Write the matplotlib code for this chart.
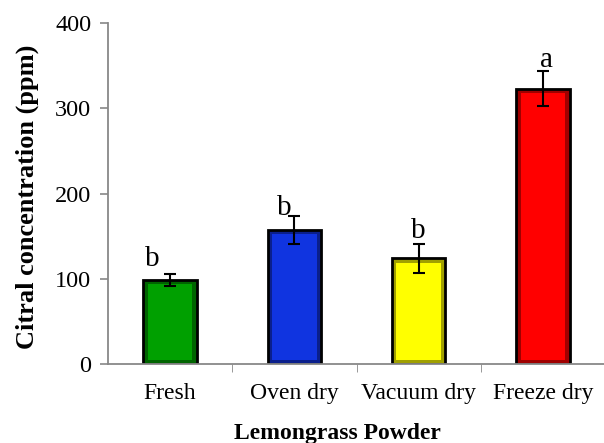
import numpy as np
import matplotlib.pyplot as plt

# dati
campioni = ['Fresh', 'Oven dry', 'Vacuum dry', 'Freeze dry']
citrale = [98.5, 157, 124, 323]
errore = [7.5, 16.5, 17, 20.5]
lettere = ['b', 'b', 'b', 'a']
lettere_y = [115, 175, 148, 348]
colori = ['#00a000', '#1034e0', '#ffff00', '#ff0000']
scuri = ['#006400', '#0a1f8c', '#a0a000', '#a00000']

plt.rcParams['font.family'] = ['Liberation Serif', 'DejaVu Serif']

fig = plt.figure(figsize=(6.04, 4.43), dpi=100)
ax = fig.add_axes([108 / 604, 1 - 364 / 443, 497 / 604, 341 / 443])

x = np.arange(len(campioni))
larg = 0.43
# barra esterna scura + interno chiaro per un effetto "smussato"
ax.bar(x, citrale, width=larg, color=scuri, edgecolor='black', linewidth=2, zorder=2)
ax.bar(x, np.array(citrale) - 10, bottom=5, width=larg - 0.07, color=colori,
       linewidth=0, zorder=3)
ax.errorbar(x, citrale, yerr=errore, fmt='none', ecolor='black', elinewidth=1.5,
            capsize=4.5, capthick=1.5, zorder=4)

# lettere di significativita'
spost = [-0.14, -0.08, 0.0, 0.03]
for i in range(len(campioni)):
    ax.text(x[i] + spost[i], lettere_y[i], lettere[i],
            ha='center', va='baseline', fontsize=21)

ax.set_xlim(-0.5, 3.5)
ax.set_ylim(0, 400)
ax.set_yticks([0, 100, 200, 300, 400])
ax.set_xticks(x)
ax.set_xticklabels(campioni, fontsize=17)
ax.set_xticks([0.5, 1.5, 2.5], minor=True)
ax.tick_params(axis='x', which='major', length=0, pad=14)
ax.tick_params(axis='x', which='minor', length=6, color='#888888', direction='out')
ax.tick_params(axis='y', labelsize=17.5, length=6, color='#888888', width=1.2, pad=6)

for s in ['top', 'right']:
    ax.spines[s].set_visible(False)
for s in ['left', 'bottom']:
    ax.spines[s].set_color('#888888')
    ax.spines[s].set_linewidth(1.3)

fig.text(337 / 604, 1 - 433 / 443, 'Lemongrass Powder', ha='center', va='center',
         fontsize=17, fontweight='bold')
fig.text(27 / 604, 1 - 197 / 443, 'Citral concentration (ppm)', ha='center',
         va='center', rotation=90, fontsize=19, fontweight='bold')

fig.savefig('out.png', dpi=100)
